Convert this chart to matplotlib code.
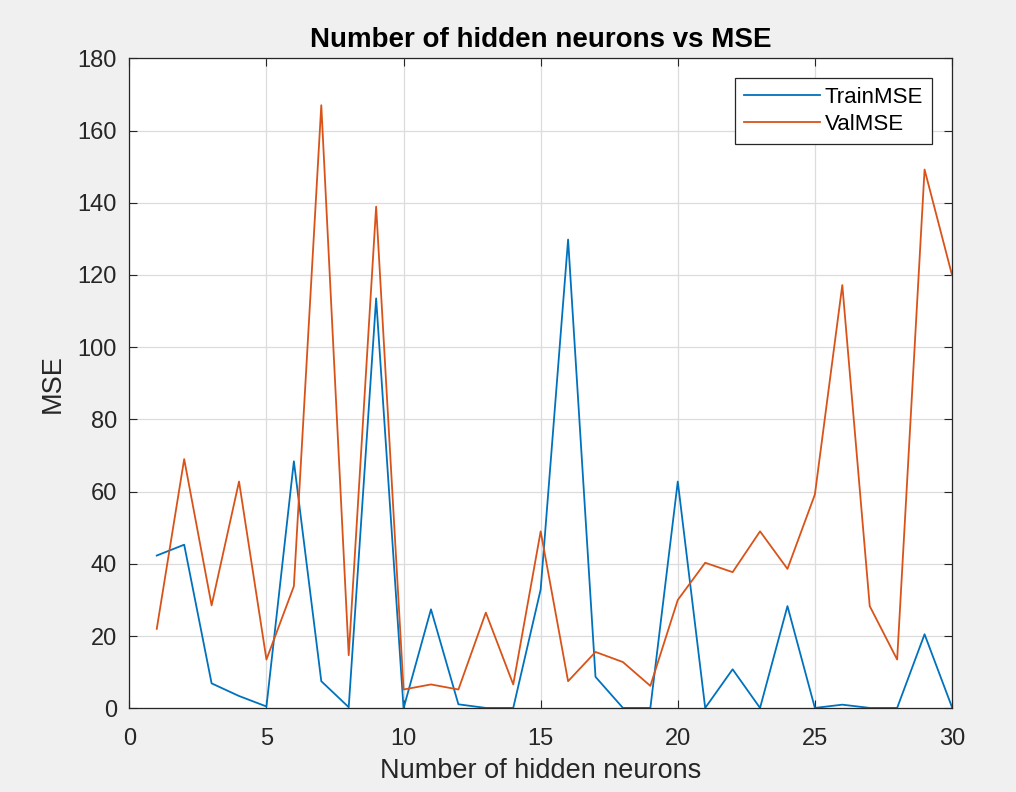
import matplotlib.pyplot as plt
import numpy as np

plt.rcParams['font.family'] = ['Liberation Sans', 'DejaVu Sans']

# hidden neuron counts and the errors recorded for each
neurons = list(range(1, 31))
train_mse = [42.3, 45.3, 6.9, 3.4, 0.5, 68.4, 7.5, 0.3, 113.5, 0.0,
             27.4, 1.1, 0.1, 0.1, 32.9, 129.8, 8.7, 0.1, 0.1, 62.8,
             0.1, 10.8, 0.1, 28.3, 0.1, 1.0, 0.1, 0.1, 20.5, 0.3]
val_mse = [22.0, 69.0, 28.5, 62.8, 13.5, 33.8, 167.0, 14.7, 138.9, 5.2,
           6.6, 5.2, 26.5, 6.6, 49.0, 7.5, 15.6, 12.8, 6.2, 30.0,
           40.3, 37.7, 49.0, 38.6, 59.2, 117.2, 28.3, 13.5, 149.2, 120.0]

x_ticks = [0, 5, 10, 15, 20, 25, 30]
y_ticks = [0, 20, 40, 60, 80, 100, 120, 140, 160, 180]

fig = plt.figure(figsize=(10.16, 7.92), dpi=100, facecolor='#f0f0f0')
ax = fig.add_axes([0.1273, 0.1057, 0.8097, 0.8207])

ax.plot(neurons, train_mse, color='#0072BD', lw=1.3, label='TrainMSE')
ax.plot(neurons, val_mse, color='#D95319', lw=1.3, label='ValMSE')

ax.set_xlim(0, 30)
ax.set_ylim(0, 180)
ax.set_xticks(x_ticks)
ax.set_yticks(y_ticks)
ax.grid(True, color='#dcdcdc', lw=0.9)
ax.set_axisbelow(True)
ax.tick_params(direction='in', top=True, right=True, length=6, width=0.8,
               labelsize=17, colors='#262626')
ax.tick_params(axis='x', pad=14)
ax.tick_params(axis='y', pad=9)
for s in ax.spines.values():
    s.set_color('#262626')
    s.set_linewidth(0.9)

ax.set_title('Number of hidden neurons vs MSE', fontsize=20, fontweight='bold', pad=8)
ax.set_xlabel('Number of hidden neurons', fontsize=19.5, color='#262626', labelpad=6)
ax.set_ylabel('MSE', fontsize=19.5, color='#262626', labelpad=8)

leg = ax.legend(loc='upper right', fontsize=16, fancybox=False, framealpha=1,
                edgecolor='#262626', handlelength=3.45, handletextpad=0.2,
                borderaxespad=0.9, labelspacing=0.25, borderpad=0.4)
leg.get_frame().set_linewidth(0.9)

fig.savefig('out.png', dpi=100, facecolor=fig.get_facecolor())
